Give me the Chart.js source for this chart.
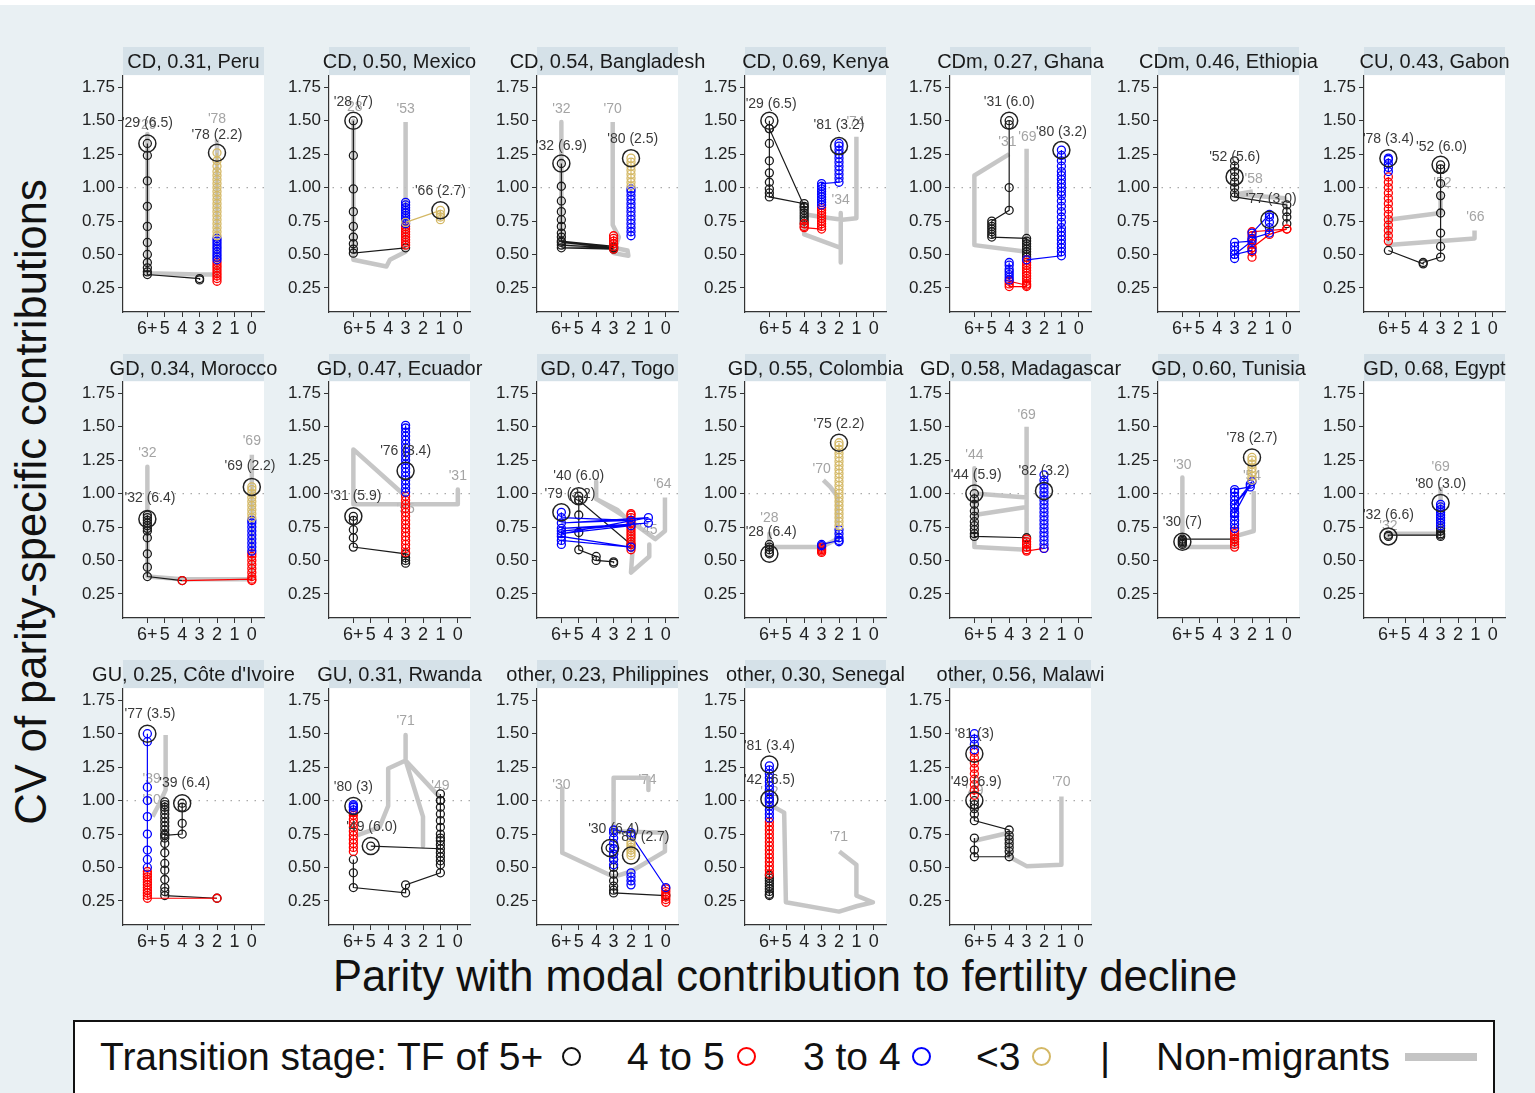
<!DOCTYPE html>
<html><head><meta charset="utf-8">
<script src="https://cdn.jsdelivr.net/npm/chart.js@4.4.1/dist/chart.umd.min.js"></script>
<style>
html,body{margin:0;padding:0;}
body{width:1535px;height:1093px;background:#e9f0f3;position:relative;overflow:hidden;font-family:"Liberation Sans",Arial,Helvetica,sans-serif;}
#topstrip{position:absolute;left:0;top:0;width:1535px;height:5px;background:#fff;}
.strip{position:absolute;height:28px;background:#d5e1e8;}
.ttl{position:absolute;white-space:nowrap;font-size:20px;color:#1a1a1a;transform:translateX(-50%);line-height:28px;z-index:2;}
canvas{position:absolute;}
#ytitle{position:absolute;left:-319px;top:477px;width:700px;height:50px;line-height:50px;text-align:center;font-size:43.5px;color:#111;transform:rotate(-90deg);white-space:nowrap;}
#xtitle{position:absolute;left:185px;top:951px;width:1200px;height:50px;line-height:50px;text-align:center;font-size:43.5px;color:#111;white-space:nowrap;}
#legend{position:absolute;left:73px;top:1020px;width:1422px;height:100px;box-sizing:border-box;border:2px solid #111;background:#fff;}
.lg{position:absolute;top:1037px;font-size:39px;line-height:40px;white-space:nowrap;color:#111;}
.lc{position:absolute;width:15px;height:15px;border-radius:50%;border:2.5px solid;top:1047px;background:transparent;}
#lgray{position:absolute;left:1405px;top:1053px;width:72px;height:8px;background:#c4c4c4;}
</style></head>
<body>
<div id="topstrip"></div>
<div id="ytitle">CV of parity-specific contributions</div>
<div id="xtitle">Parity with modal contribution to fertility decline</div>
<div id="legend"></div>
<div class="lg" style="left:100px">Transition stage: TF of 5+</div>
<div class="lc" style="left:562px;border-color:#111"></div>
<div class="lg" style="left:627px">4 to 5</div>
<div class="lc" style="left:737px;border-color:#ff0000"></div>
<div class="lg" style="left:803px">3 to 4</div>
<div class="lc" style="left:912px;border-color:#0000ff"></div>
<div class="lg" style="left:976px">&lt;3</div>
<div class="lc" style="left:1032px;border-color:#d4b865"></div>
<div class="lg" style="left:1100px">|</div>
<div class="lg" style="left:1156px">Non-migrants</div>
<div id="lgray"></div>
<script>
function col(x, ys){ return ys.map(y => [x, y]); }

const xTickValues = [0,1,2,3,4,5,6];
const xTickText = ['0','1','2','3','4','5','6+'];
const yTickValues = [0.25,0.5,0.75,1.0,1.25,1.5,1.75];

const panelTitles = [
 "CD, 0.31, Peru","CD, 0.50, Mexico","CD, 0.54, Bangladesh","CD, 0.69, Kenya","CDm, 0.27, Ghana","CDm, 0.46, Ethiopia","CU, 0.43, Gabon",
 "GD, 0.34, Morocco","GD, 0.47, Ecuador","GD, 0.47, Togo","GD, 0.55, Colombia","GD, 0.58, Madagascar","GD, 0.60, Tunisia","GD, 0.68, Egypt",
 "GU, 0.25, Côte d'Ivoire","GU, 0.31, Rwanda","other, 0.23, Philippines","other, 0.30, Senegal","other, 0.56, Malawi"
];

const tf5Plus = [
 [...col(6,[1.33,1.24,1.05,0.86,0.71,0.59,0.50,0.44,0.40,0.37,0.35]),[3,0.32],[3,0.31]],
 [...col(6,[1.50,1.24,0.99,0.82,0.71,0.63,0.58,0.54,0.51]),[3,0.55]],
 [...col(6,[1.18,1.01,0.90,0.82,0.76,0.71,0.66,0.63,0.60]),[3,0.56],[6,0.59],[3,0.55],[6,0.57],[3,0.55],[6,0.55],[3,0.54]],
 [[6,1.50],[6,1.44],[4,0.86],null,...col(6,[1.44,1.33,1.20,1.11,1.04,0.99,0.96,0.93]),...col(4,[0.88,0.85,0.83,0.81,0.79,0.77,0.75,0.73])],
 [...col(4,[1.50,1.47,1.00,0.83]),...col(5,[0.75,0.73,0.71,0.69,0.67,0.65,0.63]),...col(3,[0.62,0.60,0.58,0.56,0.54,0.52,0.50,0.48])],
 [...col(3,[1.20,1.16,1.12,1.08,1.04,1.00,0.96,0.93]),...col(0,[0.87,0.82,0.78,0.73])],
 [...col(3,[1.17,1.14,1.03,0.94,0.81,0.66,0.56,0.48]),[4,0.44],[4,0.43],[6,0.53]],
 [...col(6,[0.84,0.82,0.80,0.78,0.76,0.74,0.72,0.67,0.55,0.45,0.38]),[4,0.35]],
 [...col(6,[0.83,0.80,0.73,0.67,0.60]),...col(3,[0.55,0.52,0.50,0.48])],
 [[5,0.98],[5,0.95],[2,0.62],null,...col(5,[0.95,0.84,0.71,0.58]),...col(4,[0.53,0.50]),...col(3,[0.49,0.48])],
 col(6,[0.62,0.60,0.58,0.56,0.55]),
 [...col(6,[1.00,0.96,0.92,0.87,0.83,0.79,0.76,0.73,0.70,0.68]),[3,0.67]],
 [...col(6,[0.62,0.63,0.64,0.65,0.66]),[3,0.66]],
 [[6,0.68],[6,0.69],...col(3,[0.69,0.68,0.70,0.72,0.74])],
 [...col(4,[0.98,0.95,0.83,0.75]),...col(5,[0.74,0.99,0.97,0.95,0.93,0.90,0.87,0.84,0.81,0.78,0.75,0.72,0.68,0.61,0.53,0.48,0.41,0.35,0.32,0.29]),[2,0.27]],
 [[5,0.66],...col(1,[0.64,0.70,0.75,0.80,0.85,0.90,0.95,1.00,1.05,1.00,0.72,0.67,0.61,0.58,0.55,0.52,0.46]),...col(3,[0.37,0.31]),...col(6,[0.35,0.46,0.56])],
 [[3.2,0.645],...col(3,[0.60,0.56,0.50,0.45,0.40,0.36,0.33,0.31]),[0,0.29]],
 col(6,[1.01,0.44,0.42,0.40,0.38,0.36,0.34,0.32,0.30,0.29]),
 [...col(6,[1.00,0.97,0.94,0.90,0.85]),...col(4,[0.78,0.74,0.71,0.68,0.65,0.62,0.58]),...col(6,[0.58,0.63,0.72])]
];

const tf4to5 = [
 col(2,[0.30,0.32,0.34,0.36,0.38,0.40,0.42,0.44]),
 col(3,[0.57,0.59,0.61,0.63,0.65,0.67,0.69,0.71]),
 col(3,[0.54,0.56,0.58,0.60,0.62,0.64]),
 [...col(4,[0.73,0.71,0.70]),...col(3,[0.69,0.71,0.73,0.75,0.77,0.79,0.81,0.83,0.85])],
 [...col(3,[0.46,0.44,0.42,0.40,0.38,0.36,0.34,0.32,0.30,0.28,0.26]),...col(4,[0.26,0.28,0.30]),[3,0.27]],
 [...col(2,[0.48,0.52,0.55,0.58,0.61,0.64,0.67]),[0,0.69],null,[2,0.55],[1,0.65],[0,0.69]],
 col(6,[0.60,0.64,0.68,0.72,0.76,0.80,0.84,0.88,0.92,0.96,1.00,1.04,1.08]),
 [[4,0.35],...col(0,[0.36,0.35,0.38,0.41,0.44,0.47,0.50,0.53,0.55])],
 col(3,[0.56,0.59,0.62,0.65,0.68,0.71,0.74,0.77,0.80,0.83,0.86,0.89,0.92,0.95,0.98]),
 col(2,[0.58,0.60,0.62,0.64,0.66,0.68,0.70,0.72,0.74,0.76,0.78,0.80,0.82,0.84,0.85]),
 col(3,[0.56,0.57,0.58,0.59,0.60]),
 [...col(3,[0.66,0.64,0.62,0.60,0.58,0.57]),[2,0.59]],
 col(3,[0.60,0.62,0.64,0.66,0.68,0.70,0.72]),
 [],
 [[2,0.27],...col(6,[0.27,0.29,0.31,0.33,0.35,0.37,0.39,0.41,0.43,0.45,0.47])],
 col(6,[0.62,0.65,0.68,0.71,0.74,0.77,0.80,0.83,0.86,0.89,0.91]),
 col(0,[0.24,0.26,0.28,0.30,0.32,0.34]),
 col(6,[0.45,0.48,0.51,0.54,0.57,0.60,0.63,0.66,0.69,0.72,0.75,0.78,0.81,0.84]),
 col(6,[1.04,1.08,1.12,1.16,1.20,1.24,1.28,1.32,1.36])
];

const tf3to4 = [
 col(2,[0.46,0.48,0.50,0.52,0.54,0.56,0.58,0.60,0.62]),
 col(3,[0.73,0.75,0.77,0.79,0.81,0.83,0.85,0.87,0.89]),
 col(2,[0.64,0.67,0.70,0.73,0.76,0.79,0.82,0.85,0.88,0.91,0.94,0.97,0.99]),
 [...col(3,[0.87,0.89,0.91,0.93,0.95,0.97,0.99,1.01,1.03]),...col(2,[1.04,1.07,1.10,1.13,1.16,1.19,1.22,1.25,1.28,1.31,1.33])],
 [...col(4,[0.31,0.33,0.35,0.37,0.39,0.42,0.44]),null,[3,0.46],...col(1,[0.49,0.52,0.55,0.58,0.61,0.64,0.67,0.70,0.74,0.78,0.82,0.86,0.90,0.94,0.97,1.00,1.03,1.06,1.09,1.12,1.16,1.20,1.24,1.28])],
 [...col(3,[0.47,0.50,0.53,0.56,0.59]),[2,0.60],[3,0.50],[2,0.53],null,[2,0.62],...col(1,[0.66,0.70,0.74,0.78,0.80]),[2,0.66]],
 col(6,[1.12,1.15,1.18,1.21,1.22]),
 col(0,[0.57,0.60,0.63,0.66,0.69,0.72,0.75,0.78,0.80]),
 col(3,[1.01,1.04,1.07,1.10,1.13,1.16,1.19,1.22,1.25,1.28,1.31,1.34,1.37,1.40,1.43,1.46,1.49,1.51]),
 [[6,0.62],[6,0.65],[2,0.60],[6,0.68],[6,0.72],[1,0.78],[6,0.74],[2,0.76],[6,0.70],[1,0.82],[6,0.78],[2,0.80],[6,0.82],[6,0.86]],
 [[3,0.61],[3,0.62],...col(2,[0.65,0.64,0.67,0.70,0.73])],
 col(2,[0.59,0.62,0.65,0.68,0.71,0.74,0.77,0.80,0.83,0.86,0.89,0.92,0.95,0.98,1.01,1.04,1.07,1.10,1.14]),
 [...col(3,[0.74,0.77,0.80,0.83,0.86,0.89,0.92,0.95,0.98,1.01,1.03]),[2.1,1.05],[3,0.92],[2.1,1.07],[3,0.85],[2,1.09]],
 col(3,[0.76,0.78,0.80,0.82,0.84,0.86,0.88,0.90,0.92]),
 col(6,[0.50,0.56,0.63,0.75,0.88,1.00,1.10,1.44,1.50]),
 col(6,[0.93,0.95,0.96,0.97]),
 [...col(3,[0.52,0.56,0.60,0.64,0.68,0.72,0.76,0.78]),...col(2,[0.76,0.74]),[0,0.35],null,...col(2,[0.46,0.43,0.40,0.37])],
 col(6,[0.87,0.90,0.93,0.96,0.99,1.02,1.05,1.08,1.11,1.14,1.17,1.20,1.23,1.26]),
 col(6,[1.38,1.42,1.46,1.50])
];

const tfBelow3 = [
 col(2,[0.64,0.67,0.70,0.73,0.76,0.79,0.82,0.85,0.88,0.91,0.94,0.97,1.00,1.03,1.06,1.09,1.12,1.16,1.20,1.26]),
 [[3,0.74],...col(1,[0.83,0.80,0.78,0.76])],
 col(2,[1.01,1.04,1.07,1.10,1.13,1.16,1.19,1.22]),
 [],[],[],[],
 col(0,[0.82,0.85,0.88,0.91,0.94,0.97,1.00,1.03,1.05]),
 [],[],
 col(2,[0.76,0.79,0.82,0.85,0.88,0.91,0.94,0.97,1.00,1.03,1.06,1.09,1.12,1.15,1.18,1.21,1.24,1.27,1.30,1.33,1.36,1.38]),
 [],
 col(2,[1.10,1.13,1.16,1.19,1.22,1.25,1.27]),
 [],[],[],
 col(2,[0.59,0.61,0.63,0.65,0.67,0.69]),
 [],[]
];

const nonMigrants = [
 [[6,1.40],[6,0.36],[3,0.35],[2,0.35],[2,1.36]],
 [[6,1.50],[6,0.46],[4.1,0.41],[3.9,0.46],[3,0.52],[3,1.49]],
 [[6,1.49],[6,0.58],[3,0.55],[2.2,0.53],[2.15,0.49],[3,0.51],[2.7,0.63],[3.05,0.72],[3.05,1.49]],
 [[1.9,0.81],[1.9,0.44],[1.9,0.55],[4,0.65],[4,0.80],[3,0.78],[1.8,0.76],[1,0.77],[1,1.38]],
 [[4,1.25],[6,1.09],[6,0.57],[3,0.52],[3,1.29]],
 [[1.95,0.97],[2.9,0.95],[0.1,0.92],[0.1,0.86]],
 [[3,0.95],[3,0.81],[6,0.76],[6,0.57],[1.05,0.62],[1.05,0.68]],
 [[6,1.20],[6,0.38],[4,0.36],[0,0.36],[0,1.29]],
 [[0,1.03],[0,0.92],[6,0.92],[6,1.33],[3,0.98]],
 [[0.95,0.62],[0.95,0.53],[2.0,0.41],[1.9,0.60],[2.0,0.78],[2.8,0.88],[4,0.96],[4,1.09],[4,0.96],[2.5,0.84],[0.6,0.66],[0.05,0.72],[0.05,0.97]],
 [[6,0.70],[6,0.60],[3,0.60],[2.1,0.66],[2.1,0.98],[2.5,1.05],[2.9,1.10]],
 [[6,1.19],[6,0.60],[3,0.58],[3,0.97],[6,1.00],[6,0.84],[3,0.90],[3,1.50]],
 [[6,1.12],[6,0.60],[3,0.60],[3,0.68],[1.9,0.72],[1.9,1.02]],
 [[6,0.65],[6,0.70],[3,0.70],[3,1.05]],
 [[5.7,0.88],[5.3,0.98],[4.95,1.08],[4.95,1.49]],
 [[5.8,0.74],[4.5,0.80],[4.0,0.96],[4.0,1.24],[3.0,1.30],[3.0,1.49],[3.0,1.30],[2.0,0.88],[2.0,0.66],[2.0,0.88],[3.0,1.30],[1.0,1.02]],
 [[5.95,1.09],[5.95,0.61],[3,0.43],[2,0.47],[0.05,0.62],[0.05,0.76],[3,0.77],[3,1.17],[1.0,1.17],[1.0,1.08]],
 [[6,0.97],[5.15,0.91],[5.05,0.24],[2.0,0.17],[1.0,0.21],[0.05,0.24],[1.0,0.29],[1.0,0.52],[1.98,0.62]],
 [[6,0.70],[4,0.76],[4,0.58],[3,0.51],[1,0.52],[1,1.03]]
];

const startPoints = [[6,1.33],[6,1.50],[6,1.18],[6,1.50],[4,1.50],[3,1.08],[3,1.17],[6,0.81],[6,0.83],[5,0.98],[6,0.55],[6,1.00],[6,0.64],[6,0.68],[4,0.98],[5,0.66],[3.2,0.645],[6,1.01],[6,1.00]];
const endPoints   = [[2,1.26],[1,0.83],[2,1.22],[2,1.31],[1,1.28],[1,0.76],[6,1.22],[0,1.05],[3,1.17],[6,0.86],[2,1.38],[2,1.02],[2,1.27],[3,0.93],[6,1.50],[6,0.96],[2,0.59],[6,1.27],[6,1.35]];

const migrantLabels = [
 [[6.0,1.48,"'29 (6.5)"],[2.0,1.39,"'78 (2.2)"]],
 [[6.0,1.64,"'28 (7)"],[1.0,0.975,"'66 (2.7)"]],
 [[6.0,1.307,"'32 (6.9)"],[1.9,1.364,"'80 (2.5)"]],
 [[5.9,1.626,"'29 (6.5)"],[2.0,1.464,"'81 (3.2)"]],
 [[4.0,1.638,"'31 (6.0)"],[1.0,1.414,"'80 (3.2)"]],
 [[3.0,1.228,"'52 (5.6)"],[0.9,0.91,"'77 (3.0)"]],
 [[2.95,1.302,"'52 (6.0)"],[6.0,1.364,"'78 (3.4)"]],
 [[5.85,0.966,"'32 (6.4)"],[0.1,1.203,"'69 (2.2)"]],
 [[5.85,0.979,"'31 (5.9)"],[3.0,1.315,"'76 (3.4)"]],
 [[5.0,1.128,"'40 (6.0)"],[5.5,0.999,"'79 (3.2)"]],
 [[5.9,0.71,"'28 (6.4)"],[2.0,1.52,"'75 (2.2)"]],
 [[5.9,1.14,"'44 (5.9)"],[2.0,1.165,"'82 (3.2)"]],
 [[6.0,0.785,"'30 (7)"],[2.0,1.414,"'78 (2.7)"]],
 [[6.0,0.837,"'32 (6.6)"],[3.0,1.073,"'80 (3.0)"]],
 [[3.85,1.13,"'39 (6.4)"],[5.85,1.646,"'77 (3.5)"]],
 [[4.95,0.80,"'49 (6.0)"],[6.0,1.10,"'80 (3)"]],
 [[3.0,0.79,"'30 (6.4)"],[1.25,0.727,"'80 (2.7)"]],
 [[6.0,1.154,"'42 (6.5)"],[6.0,1.405,"'81 (3.4)"]],
 [[5.9,1.14,"'49 (6.9)"],[6.0,1.50,"'81 (3)"]]
];

const nonMigrantLabels = [
 [[6.0,1.47,"'29"],[2.0,1.51,"'78"]],
 [[6.0,1.60,"'28"],[3.0,1.588,"'53"]],
 [[6.0,1.59,"'32"],[3.05,1.59,"'70"]],
 [[1.9,0.904,"'34"],[1.05,1.49,"'74"]],
 [[4.1,1.34,"'31"],[2.95,1.38,"'69"]],
 [[1.9,1.066,"'58"]],
 [[2.9,1.03,"'52"],[1.0,0.78,"'66"]],
 [[6.0,1.30,"'32"],[0.0,1.39,"'69"]],
 [[0.0,1.133,"'31"],[3.0,0.88,"'55"]],
 [[1.0,0.725,"'45"],[0.2,1.073,"'64"]],
 [[6.0,0.817,"'28"],[3.0,1.186,"'70"]],
 [[6.0,1.29,"'44"],[3.0,1.59,"'69"]],
 [[6.0,1.215,"'30"],[2.0,1.128,"'54"]],
 [[6.0,0.76,"'32"],[3.0,1.198,"'69"]],
 [[5.75,1.16,"'39"],[5.75,1.0,"'60"]],
 [[3.0,1.595,"'71"],[1.0,1.11,"'49"]],
 [[6.0,1.117,"'30"],[1.05,1.15,"'74"]],
 [[6.0,1.06,"'42"],[2.0,0.727,"'71"]],
 [[6.0,1.07,"'49"],[1.0,1.14,"'70"]]
];

// ---------- layout ----------
const L = [123,329,537,745,950,1158,1364];
const T = [75,381.5,688];
const PW = 141, PH = 237, YW = 55, XH = 34, RP = 30;
const FONT = '"Liberation Sans", Arial, Helvetica, sans-serif';
Chart.defaults.font.family = FONT;

function pts(a){ return a.map(p => p ? {x:p[0], y:p[1]} : {x:null, y:null}); }

const bgPlugin = {
  id:'plotbg',
  beforeDraw(chart){
    const {ctx, chartArea:a} = chart;
    ctx.save(); ctx.fillStyle = '#ffffff';
    ctx.fillRect(a.left, a.top, a.right - a.left, a.bottom - a.top);
    ctx.restore();
  }
};
function drawLabels(chart, list, color){
  const {ctx, scales} = chart;
  ctx.save();
  ctx.font = '14px ' + FONT;
  ctx.fillStyle = color; ctx.textAlign = 'center'; ctx.textBaseline = 'middle';
  list.forEach(l => ctx.fillText(l[2], scales.x.getPixelForValue(l[0]), scales.y.getPixelForValue(l[1])));
  ctx.restore();
}
const labelPlugin = {
  id:'panellabels',
  beforeDatasetsDraw(chart){ drawLabels(chart, nonMigrantLabels[+chart.canvas.dataset.panel], '#a4a4a4'); },
  afterDatasetsDraw(chart){ drawLabels(chart, migrantLabels[+chart.canvas.dataset.panel], '#3a3a3a'); }
};

function stageSet(data, color, order){
  return {data: pts(data), showLine:true, borderColor:color, borderWidth:1.2,
    pointRadius:4, pointBorderColor:color, pointBackgroundColor:'rgba(0,0,0,0)', pointBorderWidth:1.3,
    tension:0, order:order, clip:false, spanGaps:false};
}

function makeChart(i, W, H, offL, offT){
  const r = Math.floor(i/7), c = i % 7;
  const cv = document.createElement('canvas');
  cv.width = W; cv.height = H;
  cv.style.left = (L[c] - offL) + 'px'; cv.style.top = (T[r] - offT) + 'px';
  cv.dataset.panel = i;
  document.body.appendChild(cv);
  const datasets = [
    {data: pts([startPoints[i], endPoints[i]]), showLine:false, pointRadius:8.5, pointBorderColor:'#222', pointBackgroundColor:'rgba(0,0,0,0)', pointBorderWidth:1.5, order:0, clip:false},
    stageSet(tfBelow3[i], '#d4b865', 1),
    stageSet(tf3to4[i], '#0000ff', 2),
    stageSet(tf4to5[i], '#ff0000', 3),
    stageSet(tf5Plus[i], '#1a1a1a', 4),
    {data: pts(nonMigrants[i]), showLine:true, borderColor:'rgba(192,192,192,0.9)', borderWidth:4.5, borderJoinStyle:'round', pointRadius:0, tension:0, order:5, clip:false},
    {data: [{x:-0.7,y:1},{x:7.4,y:1}], showLine:true, borderColor:'#aaaaaa', borderWidth:1.3, borderDash:[1.5,6.5], pointRadius:0, order:6}
  ];
  return new Chart(cv, {
    type:'scatter',
    data:{datasets},
    options:{
      responsive:false, maintainAspectRatio:false, animation:false, devicePixelRatio:1, events:[],
      layout:{padding:{left:0, top:0, bottom:0, right:RP}},
      plugins:{legend:{display:false}, tooltip:{enabled:false}},
      scales:{
        x:{type:'linear', reverse:true, min:-0.7, max:7.4,
          afterBuildTicks: s => { s.ticks = xTickValues.map(v => ({value:v})); },
          afterFit: s => { s.height = XH; },
          ticks:{autoSkip:false, maxRotation:0, minRotation:0, padding:1, color:'#222', font:{size:18},
            callback: v => xTickText[xTickValues.indexOf(v)]},
          grid:{drawOnChartArea:false, drawTicks:true, tickLength:5, color:'#333', lineWidth:1},
          border:{display:true, color:'#333', width:1.2}
        },
        y:{type:'linear', min:0.07, max:1.84,
          afterBuildTicks: s => { s.ticks = yTickValues.map(v => ({value:v})); },
          afterFit: s => { s.width = YW; },
          ticks:{padding:3, color:'#222', font:{size:17}, callback: v => Number(v).toFixed(2)},
          grid:{drawOnChartArea:false, drawTicks:true, tickLength:5, color:'#333', lineWidth:1},
          border:{display:true, color:'#333', width:1.2}
        }
      }
    },
    plugins:[bgPlugin, labelPlugin]
  });
}

// titles and strips
for (let i = 0; i < panelTitles.length; i++){
  const r = Math.floor(i/7), c = i % 7;
  const strip = document.createElement('div');
  strip.className = 'strip';
  strip.style.left = L[c] + 'px'; strip.style.top = (T[r] - 28) + 'px'; strip.style.width = PW + 'px';
  document.body.appendChild(strip);
  const t = document.createElement('div');
  t.className = 'ttl'; t.textContent = panelTitles[i];
  t.style.left = (L[c] + PW/2) + 'px'; t.style.top = (T[r] - 28) + 'px';
  document.body.appendChild(t);
}

// measure layout once, then size canvases so plot areas land exactly
const W0 = YW + PW + RP, H0 = PH + XH;
const probe = makeChart(0, W0, H0, 0, 0);
const a = probe.chartArea;
const W = W0 + (PW - (a.right - a.left));
const H = H0 + (PH - (a.bottom - a.top));
const offL = a.left, offT = a.top;
const probeCanvas = probe.canvas;
probe.destroy(); probeCanvas.remove();
for (let i = 0; i < panelTitles.length; i++) makeChart(i, W, H, offL, offT);
</script>
</body></html>
